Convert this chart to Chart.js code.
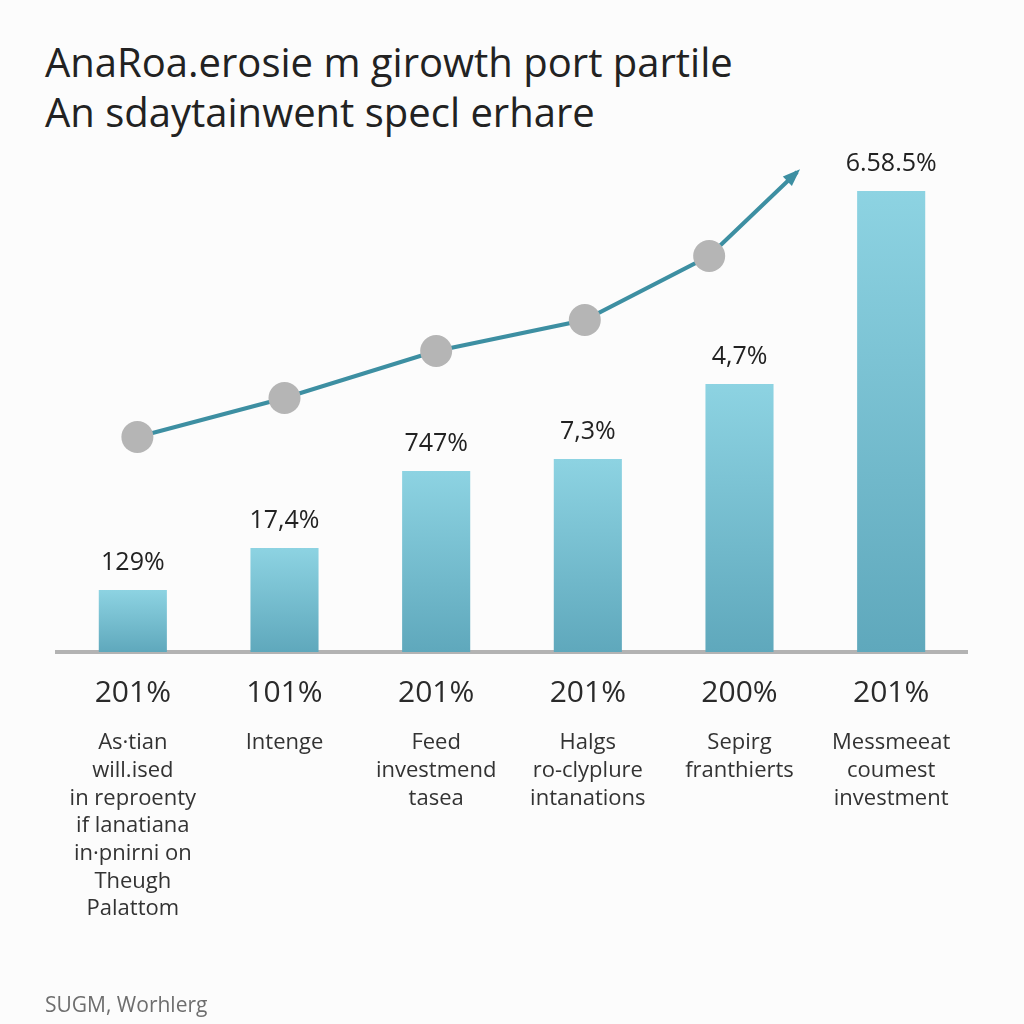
<!DOCTYPE html>
<html>
<head>
<meta charset="utf-8">
<script src="https://cdn.jsdelivr.net/npm/chart.js@4.4.1/dist/chart.umd.min.js"></script>
<style>
  html, body { margin: 0; padding: 0; background: #fcfcfc; }
  #wrap { position: relative; width: 1024px; height: 1024px; overflow: hidden; }
  #chart { position: absolute; left: 0; top: 0; }
  .title { position: absolute; left: 45px; font-family: "Open Sans", sans-serif; color: #222; font-size: 40px; letter-spacing: 0; white-space: nowrap; }
  .footer { position: absolute; left: 45px; top: 990px; font-family: "Open Sans", sans-serif; color: #6e6e6e; font-size: 21px; }
</style>
</head>
<body>
<div id="wrap">
  <div class="title" style="top:34px">AnaRoa.erosie m girowth port partile</div>
  <div class="title" style="top:84px">An sdaytainwent specl erhare</div>
  <canvas id="chart" width="1024" height="1024"></canvas>
  <div class="footer">SUGM, Worhlerg</div>
</div>
<script>
// values (bar heights / line levels in pixels-ish units)
const categories = ['201%', '101%', '201%', '201%', '200%', '201%'];
const descriptions = [
    ['As·tian', 'will.ised', 'in reproenty', 'if lanatiana', 'in·pnirni on', 'Theugh', 'Palattom'],
    ['Intenge'],
    ['Feed', 'investmend', 'tasea'],
    ['Halgs', 'ro-clyplure', 'intanations'],
    ['Sepirg', 'franthierts'],
    ['Messmeeat', 'coumest', 'investment']
];
const barValues = [62, 104, 181, 193, 268, 461];
const barLabels = ['129%', '17,4%', '747%', '7,3%', '4,7%', '6.58.5%'];
const trendX = [0.03, 1.0, 2.0, 2.98, 3.8, 4.38];
const trendY = [215, 254, 301, 332, 396, 480];

document.addEventListener('DOMContentLoaded', function () {
    const ctx = document.getElementById('chart').getContext('2d');

    // bar value labels and arrow head at the end of the trend line
    const decorations = {
        id: 'decorations',
        afterDatasetsDraw(chart) {
            const c = chart.ctx;
            const bars = chart.getDatasetMeta(0).data;
            c.save();
            c.fillStyle = '#222';
            c.font = '25px "Open Sans", sans-serif';
            c.textAlign = 'center';
            c.textBaseline = 'middle';
            bars.forEach((bar, i) => {
                c.fillText(barLabels[i], bar.x, bar.y - 27);
            });

            const pts = chart.getDatasetMeta(1).data;
            const a = pts[pts.length - 2], b = pts[pts.length - 1];
            const ang = Math.atan2(b.y - a.y, b.x - a.x);
            const s = 15;
            c.fillStyle = '#3d8fa2';
            c.beginPath();
            c.moveTo(b.x + Math.cos(ang) * 4, b.y + Math.sin(ang) * 4);
            c.lineTo(b.x - Math.cos(ang - 0.45) * s, b.y - Math.sin(ang - 0.45) * s);
            c.lineTo(b.x - Math.cos(ang + 0.45) * s, b.y - Math.sin(ang + 0.45) * s);
            c.closePath();
            c.fill();
            c.restore();
        }
    };

    new Chart(ctx, {
        type: 'bar',
        data: {
            labels: categories,
            datasets: [{
                data: barValues,
                xAxisID: 'x',
                grouped: false,
                categoryPercentage: 1,
                barPercentage: 0.449,
                order: 2,
                backgroundColor: function (context) {
                    const chart = context.chart;
                    if (!chart.chartArea) return '#79c0d1';
                    const yScale = chart.scales.y;
                    const top = yScale.getPixelForValue(context.raw);
                    const bottom = yScale.getPixelForValue(0);
                    const g = chart.ctx.createLinearGradient(0, top, 0, bottom);
                    g.addColorStop(0, '#8dd3e2');
                    g.addColorStop(1, '#5fa8bc');
                    return g;
                }
            }, {
                type: 'line',
                data: trendX.map((x, i) => ({ x: x, y: trendY[i] })),
                xAxisID: 'xl',
                order: 1,
                borderColor: '#3d8fa2',
                borderWidth: 4,
                pointRadius: [16, 16, 16, 16, 16, 0],
                pointBackgroundColor: '#b5b5b5',
                pointBorderWidth: 0,
                tension: 0
            }]
        },
        options: {
            responsive: false,
            animation: false,
            layout: { padding: { left: 57, right: 57, top: 152, bottom: 22 } },
            plugins: {
                legend: { display: false },
                tooltip: { enabled: false }
            },
            scales: {
                y: { display: false, min: 0, max: 500 },
                xl: { type: 'linear', display: false, offset: false, min: -0.5, max: 5.5 },
                x: {
                    type: 'category',
                    position: 'bottom',
                    offset: true,
                    grid: { display: false, drawTicks: false },
                    border: { display: true, color: '#b3b3b3', width: 4 },
                    ticks: {
                        color: '#2a2a2a',
                        font: { family: 'Open Sans', size: 30 },
                        padding: 23,
                        maxRotation: 0
                    },
                    afterFit(scale) { scale.height = 70; }
                },
                x2: {
                    type: 'category',
                    position: 'bottom',
                    labels: descriptions,
                    offset: true,
                    grid: { display: false, drawTicks: false },
                    border: { display: false },
                    ticks: {
                        color: '#333',
                        font: { family: 'Open Sans', size: 22, lineHeight: 1.26 },
                        padding: 7,
                        maxRotation: 0,
                        autoSkip: false
                    },
                    afterFit(scale) { scale.height = 280; }
                }
            }
        },
        plugins: [decorations]
    });
});
</script>
</body>
</html>
